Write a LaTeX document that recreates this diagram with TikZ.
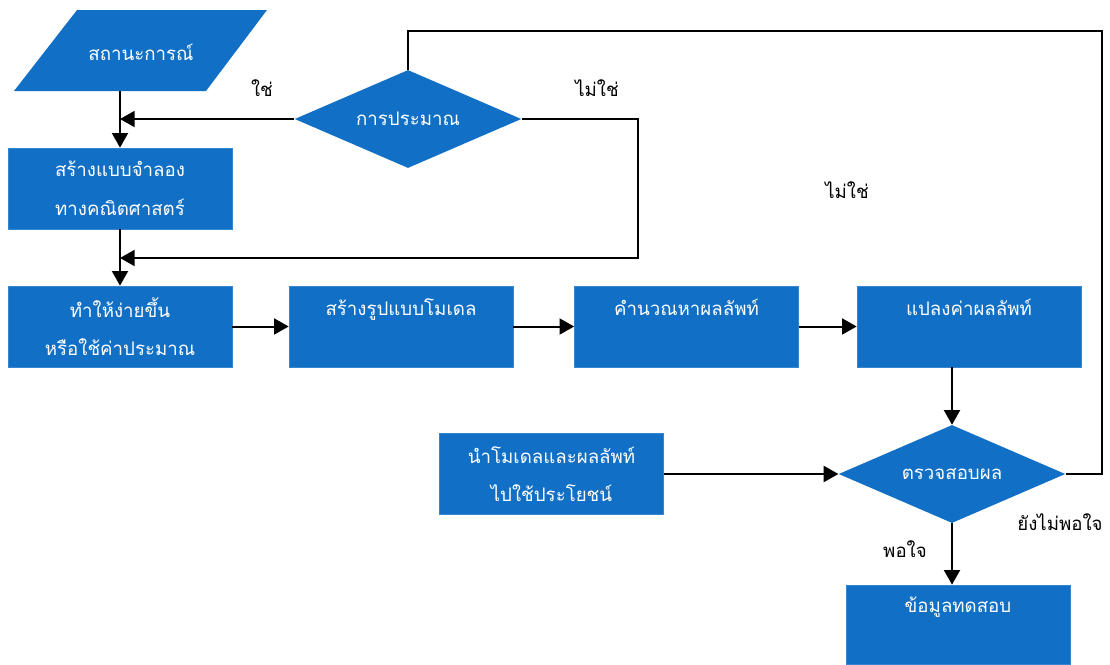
\documentclass[tikz,border=0pt]{standalone}
\usepackage{fontspec}
\newfontfamily\thaifont[Script=Thai]{Loma}
\usetikzlibrary{shapes.geometric,arrows.meta}
\definecolor{fcblue}{RGB}{17,112,198}
\begin{document}
\begin{tikzpicture}[x=0.75pt,y=-0.75pt,
  thaitext/.style={font=\thaifont\fontsize{14}{29}\selectfont},
  bluebox/.style={rectangle, fill=fcblue, draw=fcblue!85!white, line width=0.5pt,
    minimum width=168pt, minimum height=60.75pt, inner sep=0pt, align=center,
    text=white, thaitext},
  decision/.style={diamond, aspect=2.3, fill=fcblue, inner sep=0pt, minimum width=170pt,
    minimum height=73.5pt, text=white, thaitext},
  lbl/.style={thaitext, text=black, inner sep=0pt},
  conn/.style={line width=1.5pt, line join=miter, -{Triangle[length=11pt,width=12pt]}},
  plainline/.style={line width=1.5pt, line join=miter}]
\useasboundingbox (0,0) rectangle (1110,664);

% input parallelogram
\fill[fcblue] (77,10) -- (267,10) -- (206,91) -- (14,91) -- cycle;
\node[thaitext, text=white, inner sep=0pt] (sit) at (141,52) {สถานะการณ์};
\coordinate (sitb) at (120,91);

% nodes
\node[decision] (est) at (408,119) {การประมาณ};
\node[bluebox] (model) at (120,188.5) {สร้างแบบจำลอง\\ทางคณิตศาสตร์};
\node[bluebox] (simp) at (120,326.5) {ทำให้ง่ายขึ้น\\หรือใช้ค่าประมาณ};
\node[bluebox] (form) at (401,326.5) {สร้างรูปแบบโมเดล\\~};
\node[bluebox] (calc) at (686.5,326.5) {คำนวณหาผลลัพท์\\~};
\node[bluebox] (conv) at (969,326.5) {แปลงค่าผลลัพท์\\~};
\node[bluebox] (use) at (551.5,474) {นำโมเดลและผลลัพท์\\ไปใช้ประโยชน์};
\node[decision] (check) at (952,474) {ตรวจสอบผล};
\node[bluebox, minimum height=59.25pt] (data) at (958,624.5) {ข้อมูลทดสอบ\\~};

% helper coordinates
\coordinate (j1) at (120,119);
\coordinate (c1) at (638,119);
\coordinate (c2) at (638,258);
\coordinate (j2) at (120,258);
\coordinate (c3) at (1102,474);
\coordinate (c4) at (1102,31);

% connectors
\draw[conn] (sitb) -- (model.north);
\draw[conn] (est.west) -- (j1);
\draw[conn] (est.east) -- (c1) -- (c2) -- (j2);
\draw[conn] (model.south) -- (simp.north);
\draw[conn] (simp.east) -- (form.west);
\draw[conn] (form.east) -- (calc.west);
\draw[conn] (calc.east) -- (conv.west);
\draw[conn] (check.north |- conv.south) -- (check.north);
\draw[conn] (use.east) -- (check.west);
\draw[conn] (check.south) -- (check.south |- data.north);
\draw[plainline] (check.east) -- (c3) -- (c4) -- (est.north |- c4) -- (est.north);

% labels
\node[lbl] (lyes) at (262,88) {ใช่};
\node[lbl] (lno1) at (597,88) {ไม่ใช่};
\node[lbl] (lno2) at (847,190) {ไม่ใช่};
\node[lbl] (lok) at (905,549) {พอใจ};
\node[lbl] (lnotok) at (1060,522) {ยังไม่พอใจ};
\end{tikzpicture}
\end{document}
